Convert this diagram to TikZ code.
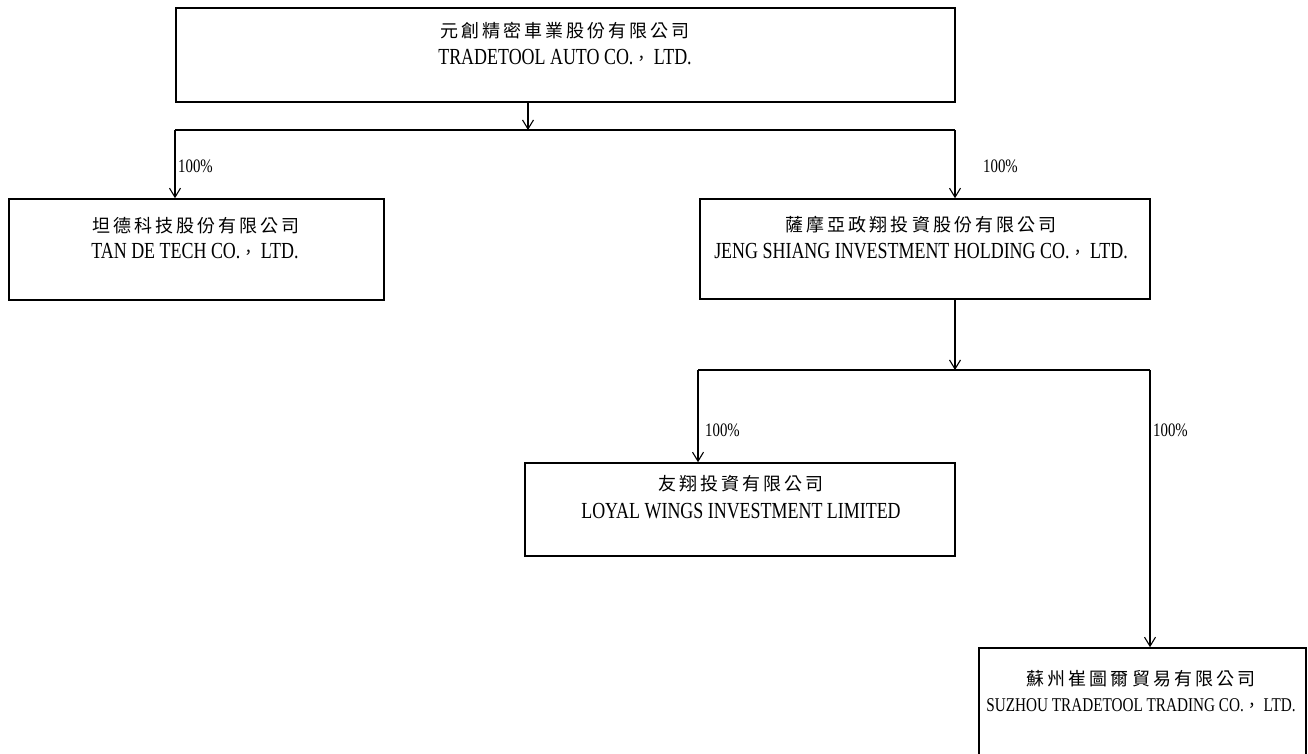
\documentclass[tikz,border=0pt]{standalone}
\usepackage{fontspec}
\setmainfont[FakeStretch=0.78]{Liberation Serif}
\newfontfamily\cjk[LetterSpace=17]{Noto Sans CJK TC}
\newfontfamily\cjkc{Noto Sans CJK TC}
\newcommand\fwc{{\cjkc\fontsize{16}{16}\selectfont ，}}
\usetikzlibrary{arrows.meta}
\begin{document}
\begin{tikzpicture}[x=1pt,y=-1pt,
  box/.style={draw, line width=1.6pt, inner sep=0pt, rectangle},
  cn/.style={font=\cjk\fontsize{18}{18}\selectfont, anchor=base, inner sep=0pt},
  en/.style={font=\fontsize{23}{23}\selectfont, anchor=base, inner sep=0pt},
  ensmall/.style={font=\fontsize{19.5}{19.5}\selectfont, anchor=base, inner sep=0pt},
  pct/.style={font=\fontsize{19}{19}\selectfont, anchor=west, inner sep=0pt},
  conn/.style={line width=1.1pt},
  arr/.style={conn, -{Straight Barb[length=9pt,width=11pt,line width=1.1pt]}}
]
\useasboundingbox (0,0) rectangle (1308,753);
\clip (0,0) rectangle (1308,753);

% boxes
\node[box, minimum width=779pt, minimum height=94pt] (top) at (565.5,55) {};
\node[box, minimum width=375pt, minimum height=101pt] (tan) at (196.5,249.5) {};
\node[box, minimum width=450pt, minimum height=100pt] (jeng) at (925,249) {};
\node[box, minimum width=430pt, minimum height=93pt] (loyal) at (740,509.5) {};
\node[box, minimum width=327pt, minimum height=142pt] (suz) at (1142.5,719) {};

% texts
\node[cn] (topc) at (565,37) {元創精密車業股份有限公司};
\node[en] (tope) at (565,64) {TRADETOOL AUTO CO.\fwc{} LTD.};
\node[cn] (tanc) at (196,232) {坦德科技股份有限公司};
\node[en] (tane) at (195,258) {TAN DE TECH CO.\fwc{} LTD.};
\node[cn] (jengc) at (921,231) {薩摩亞政翔投資股份有限公司};
\node[en] (jenge) at (921,258) {JENG SHIANG INVESTMENT HOLDING CO.\fwc{} LTD.};
\node[cn] (loyalc) at (741,490) {友翔投資有限公司};
\node[en] (loyale) at (741,518) {LOYAL WINGS INVESTMENT LIMITED};
\node[cn] (suzc) at (1141,685) {蘇州崔圖爾貿易有限公司};
\node[ensmall] (suze) at (1141,711) {SUZHOU TRADETOOL TRADING CO.\fwc{} LTD.};

% first level connectors
\coordinate (j1) at (528,130);
\coordinate (b1L) at (175,130);
\coordinate (b1R) at (955,130);
\draw[arr] (top.south -| j1) -- (j1);
\draw[conn] (b1L) -- (b1R);
\draw[arr] (b1L) -- (b1L |- tan.north);
\draw[arr] (b1R) -- (b1R |- jeng.north);

% second level connectors
\coordinate (j2) at (955,370);
\coordinate (b2L) at (698,370);
\coordinate (b2R) at (1150,370);
\draw[arr] (jeng.south -| j2) -- (j2);
\draw[conn] (b2L) -- (b2R);
\draw[arr] (b2L) -- (b2L |- loyal.north);
\draw[arr] (b2R) -- (b2R |- suz.north);

% percentage labels
\node[pct] (p1) at (178,166) {100\%};
\node[pct] (p2) at (983,166) {100\%};
\node[pct] (p3) at (705,430) {100\%};
\node[pct] (p4) at (1153,430) {100\%};
\end{tikzpicture}
\end{document}
